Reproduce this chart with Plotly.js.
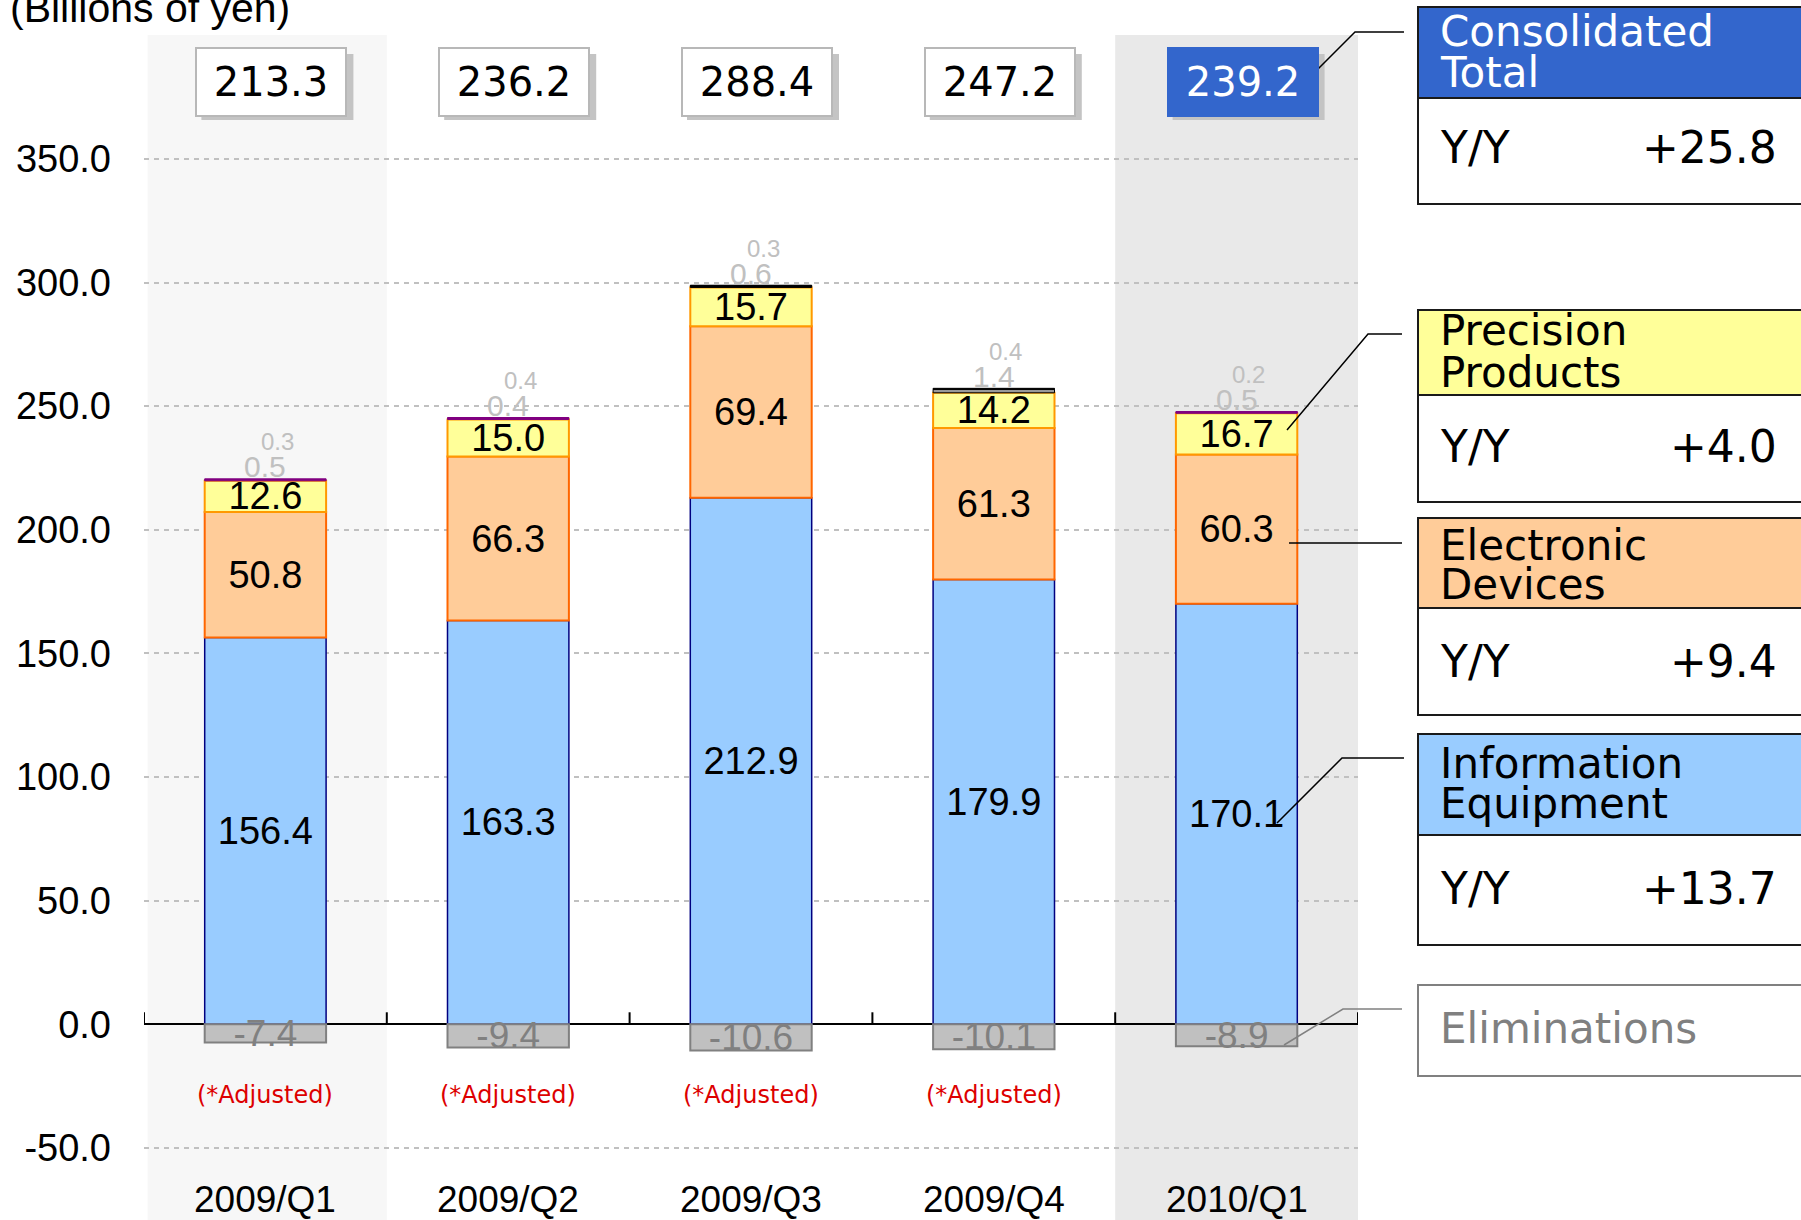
<!DOCTYPE html>
<html>
<head>
<meta charset="utf-8">
<script src="https://cdn.plot.ly/plotly-3.0.1.min.js"></script>
<style>html,body{margin:0;padding:0;background:#fff;}#chart{width:1801px;height:1220px;}</style>
</head>
<body>
<div id="chart"></div>
<script>
// ---- data ----
const categories = ['2009/Q1', '2009/Q2', '2009/Q3', '2009/Q4', '2010/Q1'];
const infoEquip = [156.4, 163.3, 212.9, 179.9, 170.1];
const elecDevices = [50.8, 66.3, 69.4, 61.3, 60.3];
const precProducts = [12.6, 15.0, 15.7, 14.2, 16.7];
const otherA = [0.5, 0.4, 0.6, 1.4, 0.5];
const otherB = [0.3, 0.4, 0.3, 0.4, 0.2];
const eliminations = [-7.4, -9.4, -10.6, -10.1, -8.9];
const totals = [213.3, 236.2, 288.4, 247.2, 239.2];
const adjustedNotes = ['(*Adjusted)', '(*Adjusted)', '(*Adjusted)', '(*Adjusted)', ''];
const yTicks = [-50, 0, 50, 100, 150, 200, 250, 300, 350];
const panelHeads = [['Consolidated', 'Total'], ['Precision', 'Products'], ['Electronic', 'Devices'], ['Information', 'Equipment']];
const panelYoY = ['+25.8', '+4.0', '+9.4', '+13.7'];
const elimLabel = 'Eliminations';
const unitLabel = '(Billions of yen)';

// ---- layout geometry ----
const L = 144, R = 443, T = 35, B = 0;
const W = 1801 - L - R, H = 1220 - T - B;
const px = x => (x - L) / W;
const py = y => 1 - (y - T) / H;
const yRange = [-79.15, 400.1];
const unitPx = H / (yRange[1] - yRange[0]);

const NUM = 'Liberation Sans, Arial, sans-serif';
const JP = 'DejaVu Sans, sans-serif';

function barTrace(name, vals, fill, line, lw, showText, textColor, textSize) {
  const t = {
    type: 'bar', name: name, x: categories, y: vals,
    marker: {color: fill, line: {color: line, width: lw}},
    hoverinfo: 'skip', showlegend: false
  };
  if (showText) {
    t.texttemplate = '%{y:.1f}';
    t.textposition = 'inside';
    t.insidetextanchor = 'middle';
    t.textangle = 0;
    t.constraintext = 'none';
    t.textfont = {family: NUM, size: textSize, color: textColor};
  } else {
    t.textposition = 'none';
  }
  return t;
}

const traces = [
  barTrace('Information Equipment', infoEquip, '#99ccff', '#000080', 1.5, true, '#000', 38),
  barTrace('Electronic Devices', elecDevices, '#ffcc99', '#ff6600', 2, true, '#000', 38),
  barTrace('Precision Products', precProducts, '#ffff99', '#ff9900', 2, true, '#000', 38),
  barTrace('Other A', otherA, ['#800080', '#800080', '#000000', '#999999', '#800080'],
           ['#800080', '#800080', '#000000', '#000000', '#800080'], 1, false),
  barTrace('Other B', otherB, ['#800080', '#800080', '#000000', '#000000', '#800080'],
           ['#800080', '#800080', '#000000', '#000000', '#800080'], 1, false),
  barTrace('Eliminations', eliminations, '#c0c0c0', '#808080', 2, true, '#808080', 37)
];

const shapes = [];
// highlighted column bands
shapes.push({type: 'rect', xref: 'x', yref: 'paper', x0: -0.485, x1: 0.5, y0: 0, y1: 1,
  fillcolor: '#f7f7f7', line: {width: 0}, layer: 'below'});
shapes.push({type: 'rect', xref: 'x', yref: 'paper', x0: categories.length - 1.5, x1: categories.length - 0.5, y0: 0, y1: 1,
  fillcolor: '#e9e9e9', line: {width: 0}, layer: 'below'});
// category boundary ticks on zero axis
for (let i = 0; i <= categories.length; i++) {
  shapes.push({type: 'line', xref: 'x', yref: 'y', x0: i - 0.5, x1: i - 0.5, y0: 0, y1: 12 / unitPx,
    line: {color: '#000', width: 2}, layer: 'above'});
}
// total-box shadows (drawn as shapes, behind the boxes)
categories.forEach((c, i) => {
  shapes.push({type: 'rect', xref: 'x', yref: 'paper', xsizemode: 'pixel', xanchor: i,
    x0: -64, x1: 88, y0: py(120), y1: py(54), fillcolor: '#c4c4c4', line: {width: 0}, layer: 'above'});
});
// right panel boxes
const boxes = [
  {top: 7, mid: 98, bot: 204, fill: '#3366cc', txt: '#ffffff', base1: 47, base2: 87, yoyBase: 163},
  {top: 310, mid: 395, bot: 502, fill: '#ffff99', txt: '#000000', base1: 345, base2: 387, yoyBase: 463},
  {top: 518, mid: 608, bot: 715, fill: '#ffcc99', txt: '#000000', base1: 560, base2: 599, yoyBase: 677},
  {top: 734, mid: 835, bot: 945, fill: '#99ccff', txt: '#000000', base1: 779, base2: 818, yoyBase: 904}
];
const boxL = 1418, boxR = 1812;
boxes.forEach(b => {
  shapes.push({type: 'rect', xref: 'paper', yref: 'paper', x0: px(boxL), x1: px(boxR), y0: py(b.mid), y1: py(b.top),
    fillcolor: b.fill, line: {color: '#1a1a1a', width: 2}, layer: 'above'});
  shapes.push({type: 'rect', xref: 'paper', yref: 'paper', x0: px(boxL), x1: px(boxR), y0: py(b.bot), y1: py(b.mid),
    fillcolor: '#ffffff', line: {color: '#1a1a1a', width: 2}, layer: 'above'});
});
shapes.push({type: 'rect', xref: 'paper', yref: 'paper', x0: px(boxL), x1: px(boxR), y0: py(1076), y1: py(985),
  fillcolor: '#ffffff', line: {color: '#808080', width: 2}, layer: 'above'});
// callout lines
function pathOf(pts) {
  return pts.map((p, i) => (i ? 'L' : 'M') + px(p[0]).toFixed(5) + ',' + py(p[1]).toFixed(5)).join(' ');
}
const callouts = [
  {pts: [[1304, 83], [1355, 32], [1404, 32]], color: '#000'},
  {pts: [[1287, 430], [1368, 334], [1402, 334]], color: '#000'},
  {pts: [[1289, 543], [1402, 543]], color: '#000'},
  {pts: [[1277, 823], [1342, 758], [1404, 758]], color: '#000'},
  {pts: [[1284, 1045], [1343, 1009], [1402, 1009]], color: '#808080'}
];
callouts.forEach(c => shapes.push({type: 'path', xref: 'paper', yref: 'paper', path: pathOf(c.pts),
  line: {color: c.color, width: 1.5}, layer: 'above'}));

const annotations = [];
// unit label
annotations.push({xref: 'paper', yref: 'paper', x: px(8), y: py(8), xanchor: 'left', yanchor: 'middle',
  text: unitLabel, showarrow: false, font: {family: NUM, size: 41, color: '#000'}});
// total boxes
categories.forEach((c, i) => {
  const last = i === categories.length - 1;
  annotations.push({xref: 'x', yref: 'paper', x: i, y: py(82), xanchor: 'center', yanchor: 'middle',
    showarrow: false, width: 140, height: 58, borderpad: 4, borderwidth: 2, xshift: 6,
    text: totals[i].toFixed(1), bgcolor: last ? '#3366cc' : '#ffffff',
    bordercolor: last ? '#3366cc' : '#b8b8b8', font: {family: JP, size: 40, color: last ? '#ffffff' : '#000'}});
});
// small segment labels, notes, category labels
categories.forEach((c, i) => {
  const top = infoEquip[i] + elecDevices[i] + precProducts[i] + otherA[i] + otherB[i];
  annotations.push({xref: 'x', yref: 'y', x: i, y: top, xanchor: 'center', yanchor: 'middle', yshift: 12,
    text: otherA[i].toFixed(1), showarrow: false, font: {family: NUM, size: 30, color: '#c0c0c0'}});
  annotations.push({xref: 'x', yref: 'y', x: i, y: top, xanchor: 'center', yanchor: 'middle', yshift: 37, xshift: 12,
    text: otherB[i].toFixed(1), showarrow: false, font: {family: NUM, size: 24, color: '#c0c0c0'}});
  if (adjustedNotes[i]) {
    annotations.push({xref: 'x', yref: 'y', x: i, y: -28.5, xanchor: 'center', yanchor: 'middle',
      text: adjustedNotes[i], showarrow: false, font: {family: JP, size: 24, color: '#dd0000'}});
  }
  annotations.push({xref: 'x', yref: 'y', x: i, y: -71, xanchor: 'center', yanchor: 'middle',
    text: c, showarrow: false, font: {family: NUM, size: 37, color: '#000'}});
});
// right panel texts
boxes.forEach((b, k) => {
  [b.base1, b.base2].forEach((base, j) => {
    annotations.push({xref: 'paper', yref: 'paper', x: px(1438), y: py(base - 15), xanchor: 'left', yanchor: 'middle',
      text: panelHeads[k][j], showarrow: false, font: {family: JP, size: 42, color: b.txt}});
  });
  annotations.push({xref: 'paper', yref: 'paper', x: px(1438), y: py(b.yoyBase - 16), xanchor: 'left', yanchor: 'middle',
    text: 'Y/Y', showarrow: false, font: {family: JP, size: 44, color: '#000'}});
  annotations.push({xref: 'paper', yref: 'paper', x: px(1779), y: py(b.yoyBase - 16), xanchor: 'right', yanchor: 'middle',
    text: panelYoY[k], showarrow: false, font: {family: JP, size: 44, color: '#000'}});
});
annotations.push({xref: 'paper', yref: 'paper', x: px(1438), y: py(1043 - 15), xanchor: 'left', yanchor: 'middle',
  text: elimLabel, showarrow: false, font: {family: JP, size: 42, color: '#808080'}});

const layout = {
  width: 1801, height: 1220,
  margin: {l: L, r: R, t: T, b: B, pad: 0},
  paper_bgcolor: '#ffffff', plot_bgcolor: '#ffffff',
  barmode: 'relative', bargap: 0.5,
  showlegend: false,
  xaxis: {type: 'category', range: [-0.5, categories.length - 0.5], showgrid: false, showticklabels: false,
    zeroline: false, showline: false, ticks: '', fixedrange: true},
  yaxis: {range: yRange, tickvals: yTicks, ticktext: yTicks.map(v => v.toFixed(1)),
    showgrid: true, gridcolor: '#c0c0c0', gridwidth: 2, griddash: '5px,5px',
    zeroline: true, zerolinecolor: '#000', zerolinewidth: 2, showline: false, ticks: '',
    ticklabelstandoff: 32, tickfont: {family: NUM, size: 38, color: '#000'}, fixedrange: true},
  shapes: shapes,
  annotations: annotations
};

Plotly.newPlot('chart', traces, layout, {displayModeBar: false, staticPlot: true});
</script>
</body>
</html>
